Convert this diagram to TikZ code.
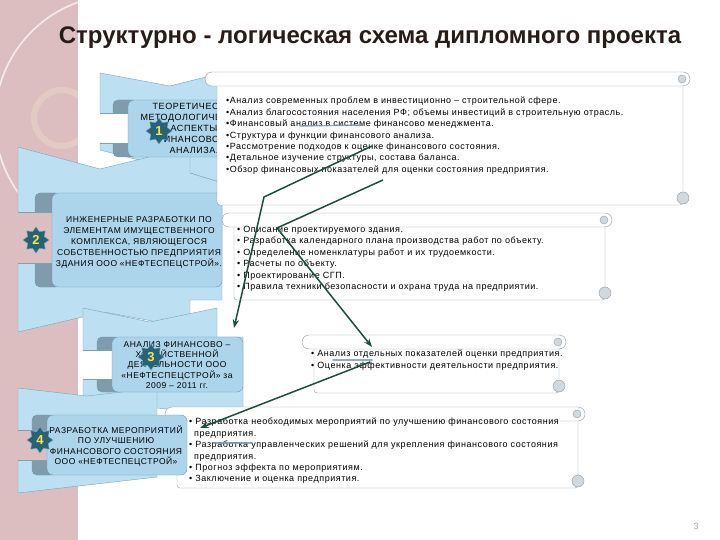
\documentclass[tikz,border=0pt]{standalone}
\usepackage{fontspec}
\setmainfont{Liberation Sans}
\newfontfamily\spacedfont[LetterSpace=6]{Liberation Sans}
\usepackage{xcolor}
\usepackage{tikz}
\usetikzlibrary{arrows.meta,shapes.geometric}
\definecolor{stripfill}{RGB}{220,190,192}
\definecolor{ringcol}{RGB}{238,224,200}
\definecolor{chevfill}{RGB}{188,224,241}
\definecolor{chevline}{RGB}{118,163,188}
\definecolor{boxfill}{RGB}{172,213,235}
\definecolor{boxline}{RGB}{105,150,176}
\definecolor{tabfill}{RGB}{128,156,172}
\definecolor{scrline}{RGB}{140,156,164}
\definecolor{curlfill}{RGB}{210,216,220}
\definecolor{starfill}{RGB}{40,98,118}
\definecolor{starline}{RGB}{110,170,190}
\definecolor{numyellow}{RGB}{250,228,70}
\definecolor{arrowgreen}{RGB}{28,78,58}
\definecolor{faintblue}{RGB}{120,150,175}
\definecolor{titlebrown}{RGB}{40,28,24}
\definecolor{pagegray}{RGB}{150,172,188}
\tikzset{
  chev/.style={draw=chevline, fill=chevfill, line join=round, thin},
  tabbox/.style={draw=boxline, fill=tabfill, rounded corners=5pt, thin},
  stepbox/.style={draw=boxline, fill=boxfill, rounded corners=6pt, thin},
  cutedge/.style={draw=chevline, thin},
  steptext/.style={align=center, inner sep=0pt, text=black},
  stepnum/.style={star, star points=8, star point ratio=1.45, minimum size=26pt,
                  inner sep=0pt, draw=starline, fill=starfill, text=numyellow,
                  font=\bfseries\fontsize{13}{13}\selectfont},
  scrollpart/.style={draw=scrline, fill=white, thin},
  scrollcurl/.style={draw=scrline, fill=curlfill, thin},
  itemtext/.style={anchor=north west, align=left, inner sep=0pt,
                   font=\spacedfont\fontsize{9}{11.4}\selectfont},
  flow/.style={-{Stealth[length=3mm, width=2.2mm]}, line width=1.5pt, draw=arrowgreen},
  faint/.style={line width=1.4pt, draw=faintblue, line cap=round, opacity=.8},
}
% horizontal scroll: x1, y1, x2, y2
\newcommand{\scrollbox}[4]{%
  \draw[scrollpart, rounded corners=3pt] ({#1+12},{#2+7}) rectangle ({#3-7},#4);
  \draw[scrollcurl] ({#3-7},{#4-7}) circle (6);
  \draw[scrollpart, rounded corners=7pt] (#1,#2) rectangle (#3,{#2+14});
  \draw[scrollcurl] ({#3-8},{#2+7}) circle (4);
}

\begin{document}
\begin{tikzpicture}[x=1pt, y=-1pt]
  \useasboundingbox (0,0) rectangle (720,540);
  \fill[white] (0,0) rectangle (720,540);

  % left strip
  \begin{scope}
    \clip (0,0) rectangle (78,540);
    \fill[stripfill] (0,0) rectangle (78,540);
    \draw[white, opacity=.7, line width=1.6pt] (120,120) circle (125);
    \draw[ringcol, opacity=.4, line width=6pt] (62,118) circle (28);
  \end{scope}

  \node[font=\bfseries\fontsize{24}{28}\selectfont, text=titlebrown] (title) at (370,38)
    {Структурно - логическая схема дипломного проекта};

  % chevrons
  \draw[chev] (100,73) -- (170,86) -- (222,73) -- (222,183) -- (190,173) -- (100,150) -- cycle;
  \draw[chev] (18,147) -- (100,169) -- (190,147) -- (190,173) -- (222,183) -- (222,300)
    -- (190,300) -- (190,328) -- (104,312) -- (18,332) -- cycle;
  \draw[chev] (83,308) -- (150,322) -- (217,308) -- (217,337) -- (243,337) -- (243,417)
    -- (157,408) -- (83,400) -- cycle;
  \draw[chev] (18,388) -- (87,396) -- (157,388) -- (157,477) -- (18,493) -- cycle;

  % step 1
  \draw[tabbox] (113,100) rectangle (138,157);
  \fill[white] (99,113) rectangle (128,143);
  \draw[cutedge] (100,113) -- (128,113) (100,143) -- (128,143);
  \draw[stepbox] (128,100) rectangle (272,157);
  \node[steptext, font=\spacedfont\fontsize{9}{11}\selectfont] (t1) at (194,128)
    {ТЕОРЕТИЧЕСКО-\\МЕТОДОЛОГИЧЕСКИЕ\\АСПЕКТЫ\\ФИНАНСОВОГО\\АНАЛИЗА.};
  \node[stepnum] (num1) at (159,131) {1};

  % step 2
  \draw[tabbox] (35,193) rectangle (60,287);
  \fill[stripfill] (10,212) rectangle (52,263);
  \draw[cutedge] (18,212) -- (52,212) (18,263) -- (52,263);
  \draw[stepbox] (52,193) rectangle (222,287);
  \node[steptext, font=\spacedfont\fontsize{8.5}{11}\selectfont] (t2) at (139,242)
    {ИНЖЕНЕРНЫЕ РАЗРАБОТКИ ПО\\ЭЛЕМЕНТАМ ИМУЩЕСТВЕННОГО\\КОМПЛЕКСА, ЯВЛЯЮЩЕГОСЯ\\СОБСТВЕННОСТЬЮ ПРЕДПРИЯТИЯ\\ЗДАНИЯ ООО «НЕФТЕСПЕЦСТРОЙ».};
  \node[stepnum] (num2) at (36,240) {2};

  % step 3
  \draw[tabbox] (97,337) rectangle (120,392);
  \fill[white] (79,350) rectangle (112,379);
  \draw[cutedge] (83,350) -- (112,350) (83,379) -- (112,379);
  \draw[stepbox] (112,337) rectangle (243,392);
  \node[steptext, font=\spacedfont\fontsize{8.5}{10.3}\selectfont] (t3) at (177,365)
    {АНАЛИЗ ФИНАНСОВО –\\ХОЗЯЙСТВЕННОЙ\\ДЕЯТЕЛЬНОСТИ ООО\\«НЕФТЕСПЕЦСТРОЙ» за\\2009 – 2011 гг.};
  \node[stepnum] (num3) at (151,357) {3};

  % step 4
  \scrollbox{165}{407}{585}{488}
  \draw[tabbox] (32,415) rectangle (55,475);
  \fill[stripfill] (10,430) rectangle (47,460);
  \draw[cutedge] (18,430) -- (47,430) (18,460) -- (47,460);
  \draw[stepbox] (47,415) rectangle (187,475);
  \node[steptext, font=\spacedfont\fontsize{8.5}{10.3}\selectfont] (t4) at (116,446)
    {РАЗРАБОТКА МЕРОПРИЯТИЙ\\ПО УЛУЧШЕНИЮ\\ФИНАНСОВОГО СОСТОЯНИЯ\\ООО «НЕФТЕСПЕЦСТРОЙ»};
  \node[stepnum] (num4) at (40,440) {4};

  % scrolls
  \scrollbox{205}{72}{690}{205}
  \scrollbox{222}{213}{612}{300}
  \scrollbox{302}{335}{566}{393}

  \node[itemtext] (list1) at (226,97)
    {•Анализ современных проблем в инвестиционно – строительной сфере.\\
     •Анализ благосостояния населения РФ; объемы инвестиций  в строительную отрасль.\\
     •Финансовый анализ в системе финансово менеджмента.\\
     •Структура и функции финансового анализа.\\
     •Рассмотрение подходов к оценке финансового состояния.\\
     •Детальное изучение структуры, состава баланса.\\
     •Обзор финансовых показателей для оценки состояния предприятия.};
  \node[itemtext] (list2) at (237,226)
    {• Описание проектируемого здания.\\
     • Разработка календарного плана производства работ по объекту.\\
     • Определение номенклатуры работ и их трудоемкости.\\
     • Расчеты по объекту.\\
     • Проектирование СГП.\\
     • Правила техники безопасности и охрана труда на предприятии.};
  \node[itemtext] (list3) at (311,350)
    {• Анализ отдельных показателей оценки предприятия.\\
     • Оценка эффективности деятельности предприятия.};
  \node[itemtext] (list4) at (189,418)
    {• Разработка необходимых мероприятий по улучшению финансового состояния\\
     \hspace*{5pt}предприятия.\\
     • Разработка управленческих решений для укрепления финансового состояния\\
     \hspace*{5pt}предприятия.\\
     • Прогноз эффекта по мероприятиям.\\
     • Заключение и оценка предприятия.};

  % connectors
  \coordinate (a1s) at (372,146);
  \coordinate (a1m) at (264,197);
  \coordinate (a1e) at (234,328);
  \coordinate (a2s) at (383,180);
  \coordinate (a2m) at (277,228);
  \coordinate (a2e) at (372,347);
  \coordinate (a3s) at (370,362);
  \coordinate (a3e) at (200,428);
  \draw[flow] (a1s) -- (a1m) -- (a1e);
  \draw[flow] (a2s) -- (a2m) -- (a2e);
  \draw[flow] (a3s) -- (a3e);

  \coordinate (f1s) at (300,126);
  \coordinate (f1e) at (364,125);
  \coordinate (f2s) at (333,360);
  \coordinate (f2e) at (372,360);
  \coordinate (f3s) at (214,443);
  \coordinate (f3e) at (252,443);
  \draw[faint] (f1s) -- (f1e);
  \draw[faint] (f2s) -- (f2e);
  \draw[faint] (f3s) -- (f3e);

  \node[font=\fontsize{9}{9}\selectfont, text=pagegray] (pagenum) at (696,526) {3};
\end{tikzpicture}
\end{document}
